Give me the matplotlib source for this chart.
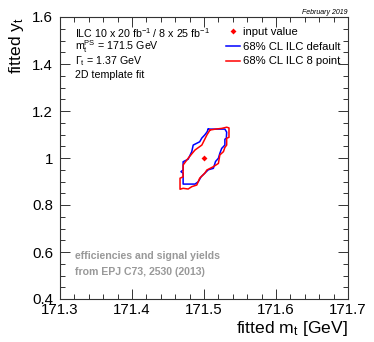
import numpy as np
import matplotlib
matplotlib.use("Agg")
from matplotlib import pyplot as plt
from matplotlib.ticker import MultipleLocator
from matplotlib.lines import Line2D

plt.rcParams['font.family'] = ['Liberation Sans', 'DejaVu Sans']
plt.rcParams['mathtext.fontset'] = 'custom'
plt.rcParams['mathtext.rm'] = 'Liberation Sans'
plt.rcParams['mathtext.it'] = 'Liberation Sans'

# input point
mt_in = [171.5]
yt_in = [1.0]

# 68% CL contour, ILC default
blue_m = [171.506, 171.529, 171.5315, 171.531, 171.529, 171.529, 171.5246, 171.522, 171.520,
          171.516, 171.513, 171.506, 171.501, 171.496, 171.492, 171.4875, 171.471, 171.471,
          171.468, 171.471, 171.471, 171.478, 171.483, 171.485, 171.494, 171.497, 171.501,
          171.504, 171.506]
blue_y = [1.123, 1.123, 1.110, 1.084, 1.080, 1.055, 1.041, 1.020, 0.999,
          0.985, 0.956, 0.950, 0.935, 0.920, 0.899, 0.889, 0.889, 0.935,
          0.942, 0.949, 0.984, 0.995, 1.027, 1.055, 1.069, 1.085, 1.098,
          1.110, 1.123]

# 68% CL contour, ILC 8 point
red_m = [171.5083, 171.516, 171.5246, 171.5315, 171.5347, 171.5347, 171.5315, 171.5315, 171.529,
         171.527, 171.522, 171.520, 171.513, 171.504, 171.501, 171.494, 171.490, 171.483,
         171.478, 171.471, 171.4667, 171.4667, 171.471, 171.471, 171.478, 171.4875, 171.497,
         171.504, 171.5083]
red_y = [1.119, 1.123, 1.126, 1.131, 1.128, 1.088, 1.084, 1.055, 1.045,
         1.027, 1.013, 0.977, 0.963, 0.949, 0.935, 0.914, 0.885, 0.878,
         0.868, 0.871, 0.867, 0.914, 0.920, 0.970, 0.999, 1.034, 1.055,
         1.098, 1.119]

fig = plt.figure(figsize=(3.74, 3.42), dpi=100)
ax = fig.add_axes([60/374, 1-299/342, 288/374, 282/342])

ax.plot(blue_m, blue_y, color='#0000ff', lw=1.1)
ax.plot(red_m, red_y, color='#ff0000', lw=1.1)
ax.plot(mt_in, yt_in, 'D', color='#ff0000', ms=3, mew=0)

ax.set_xlim(171.3, 171.7)
ax.set_ylim(0.4, 1.6)
ax.xaxis.set_minor_locator(MultipleLocator(0.02))
ax.yaxis.set_minor_locator(MultipleLocator(0.05))
ax.set_xticks([171.3, 171.4, 171.5, 171.6, 171.7])
ax.set_xticklabels(['171.3', '171.4', '171.5', '171.6', '171.7'])
ax.set_yticks([0.4, 0.6, 0.8, 1.0, 1.2, 1.4, 1.6])
ax.set_yticklabels(['0.4', '0.6', '0.8', '1', '1.2', '1.4', '1.6'])
ax.tick_params(which='both', direction='in', top=True, right=True, labelsize=10.8, width=0.7, color='#333333')
ax.tick_params(which='major', length=7)
ax.tick_params(which='minor', length=3.5)
ax.tick_params(axis='x', pad=3)
ax.tick_params(axis='y', pad=5)
for s in ax.spines.values():
    s.set_linewidth(0.8)
    s.set_color('#333333')

ax.set_xlabel(r'fitted m$_{\rm t}$ [GeV]', fontsize=12.6, loc='right', labelpad=1)
ax.set_ylabel(r'fitted y$_{\rm t}$', fontsize=12.6, loc='top', labelpad=4)

txt = [r'ILC 10 x 20 fb$^{-1}$ / 8 x 25 fb$^{-1}$',
       r'm$_{\rm t}^{\rm PS}$ = 171.5 GeV',
       r'$\Gamma_{\rm t}$ = 1.37 GeV',
       '2D template fit']
for i, t in enumerate(txt):
    ax.text(75/374, 1-(33+14*i)/342, t, transform=fig.transFigure, fontsize=7.7, va='center')

ax.text(75/374, 1-256/342, 'efficiencies and signal yields', transform=fig.transFigure,
        fontsize=7.6, color='#999999', fontweight='bold', va='center')
ax.text(75/374, 1-272/342, 'from EPJ C73, 2530 (2013)', transform=fig.transFigure,
        fontsize=7.6, color='#999999', fontweight='bold', va='center')
fig.text(348/374, 1-12/342, 'February 2019', fontsize=5, style='italic', ha='right', va='center')

handles = [Line2D([], [], ls='none', marker='D', color='#ff0000', ms=3, mew=0),
           Line2D([], [], color='#0000ff', lw=1.1),
           Line2D([], [], color='#ff0000', lw=1.1)]
labels = ['input value', '68% CL ILC default', '68% CL ILC 8 point']
ax.legend(handles, labels, loc='upper left', bbox_to_anchor=(226/374, 1-27/342),
          bbox_transform=fig.transFigure, frameon=False, fontsize=8.1,
          handlelength=1.2, handletextpad=0.3, labelspacing=0.42, borderpad=0, borderaxespad=0)

fig.savefig('out.png', dpi=100)
